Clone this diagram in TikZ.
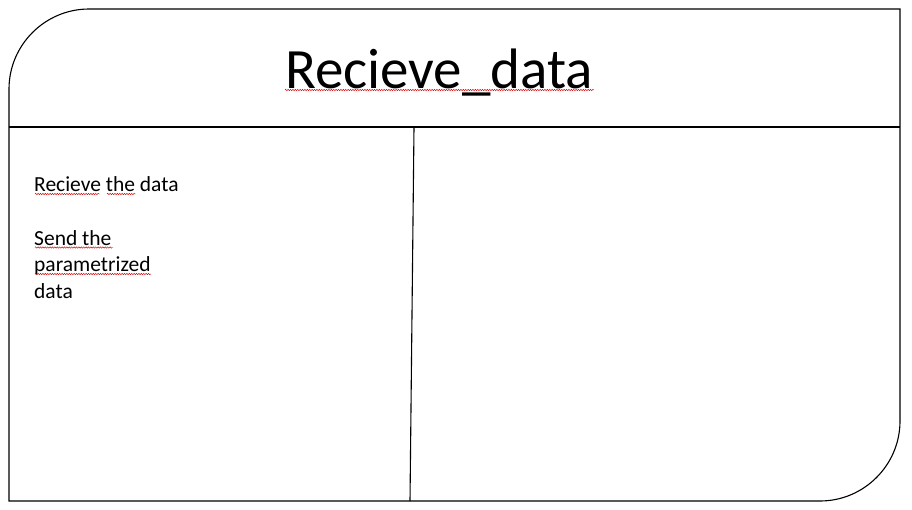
\documentclass[tikz,border=0pt]{standalone}
\usepackage{fontspec}
\setmainfont{Carlito}
\usetikzlibrary{decorations.pathmorphing}

\tikzset{
  frame/.style={line width=1.1pt},
  spell/.style={red!85!black, line width=0.45pt, decorate,
    decoration={snake, amplitude=0.7pt, segment length=2.4pt}},
  titletext/.style={anchor=base, inner sep=0pt, font=\fontsize{57}{60}\selectfont},
  bodytext/.style={anchor=base west, inner sep=0pt, font=\fontsize{21.5}{24}\selectfont}
}

\begin{document}
\begin{tikzpicture}[x=1pt, y=-1pt]
    \useasboundingbox (0,0) rectangle (912,509);
    % card outline, rounded top left and bottom right
    \draw[frame] (9,501) -- (9,89) .. controls (9,45) and (45,9) .. (89,9)
        -- (900,9) -- (900,421) .. controls (900,465) and (864,501) .. (820,501) -- cycle;
    \draw[frame] (9,127) -- (900,127);
    \draw[frame] (414,127) -- (410,501);
    % title
    \node[titletext] (title) at (439,88) {Recieve\_data};
    \draw[spell] (285,90) -- (594,90);
    % left column
    \node[bodytext] (recv) at (34,191) {Recieve the data};
    \node[bodytext] (send) at (34,245) {Send the};
    \node[bodytext] (param) at (34,271.5) {parametrized};
    \node[bodytext] (data) at (34,298) {data};
    \draw[spell] (35,194) -- (100,194);
    \draw[spell] (107,194) -- (136,194);
    \draw[spell] (35,247.5) -- (113,247.5);
    \draw[spell] (35,274) -- (151,274);
    %\node[bodytext] at (430,191) {};
\end{tikzpicture}
\end{document}
